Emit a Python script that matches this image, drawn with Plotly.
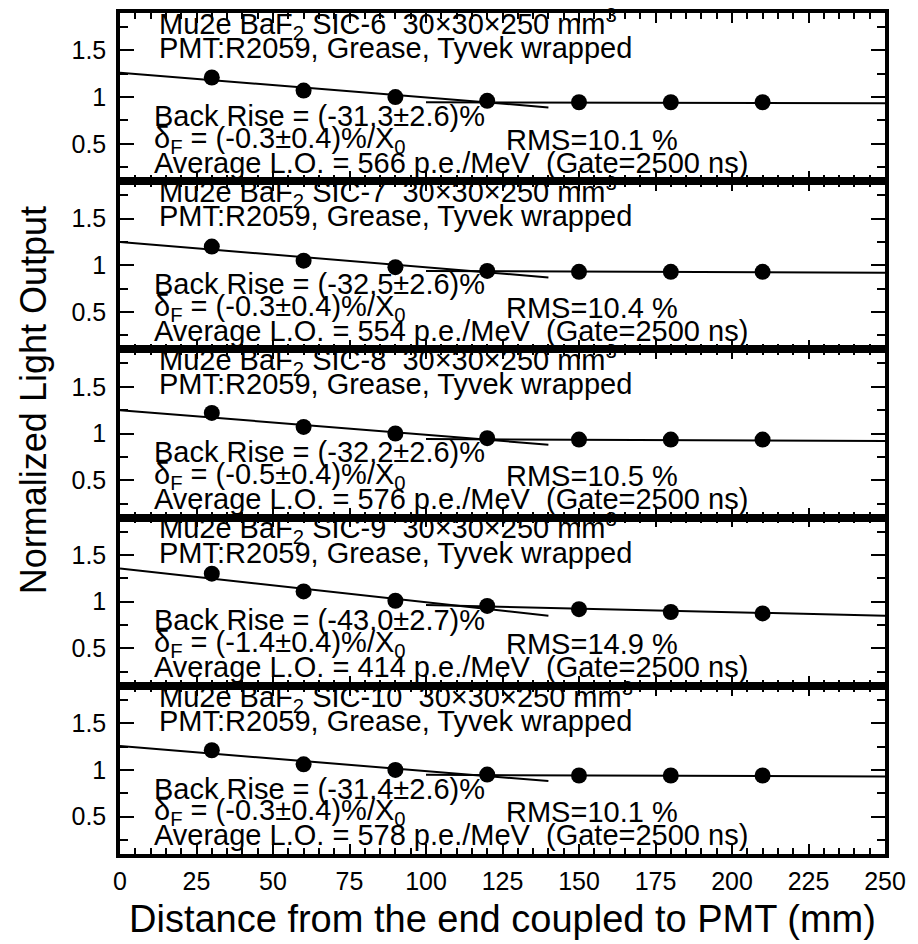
import plotly.graph_objects as go
from plotly.subplots import make_subplots

# ---- data ----
positions = [30, 60, 90, 120, 150, 180, 210]
crystals = ["SIC-6", "SIC-7", "SIC-8", "SIC-9", "SIC-10"]
lo_sic6 = [1.21, 1.07, 1.00, 0.96, 0.945, 0.945, 0.945]
lo_sic7 = [1.20, 1.05, 0.98, 0.94, 0.93, 0.93, 0.93]
lo_sic8 = [1.22, 1.07, 1.00, 0.95, 0.935, 0.935, 0.935]
lo_sic9 = [1.30, 1.11, 1.01, 0.955, 0.92, 0.89, 0.875]
lo_sic10 = [1.21, 1.06, 1.00, 0.95, 0.94, 0.94, 0.94]
light_output = [lo_sic6, lo_sic7, lo_sic8, lo_sic9, lo_sic10]

front_fit_x = [0, 140]
front_fit_y = [[1.26, 0.89], [1.25, 0.87], [1.25, 0.88], [1.355, 0.85], [1.255, 0.88]]
rear_fit_x = [100, 250]
rear_fit_y = [[0.945, 0.935], [0.94, 0.92], [0.94, 0.92], [0.965, 0.85], [0.947, 0.93]]

back_rise = ["-31.3\u00b12.6", "-32.5\u00b12.6", "-32.2\u00b12.6", "-43.0\u00b12.7", "-31.4\u00b12.6"]
delta_f = ["-0.3\u00b10.4", "-0.3\u00b10.4", "-0.5\u00b10.4", "-1.4\u00b10.4", "-0.3\u00b10.4"]
rms = ["10.1", "10.4", "10.5", "14.9", "10.1"]
avg_lo = ["566", "554", "576", "414", "578"]

x_ticks = [0, 25, 50, 75, 100, 125, 150, 175, 200, 225, 250]
y_ticks = [0.5, 1, 1.5]
y_tick_text = ["0.5", "1", "1.5"]
y_minor = [0.25, 0.75, 1.25, 1.75]

FONT = "Liberation Sans, Arial, Helvetica, sans-serif"
NB = "\u00a0"

fig = make_subplots(rows=5, cols=1, shared_xaxes=True, vertical_spacing=0)

annotations = []
for i in range(5):
    r = i + 1
    fig.add_trace(go.Scatter(x=front_fit_x, y=front_fit_y[i], mode="lines",
                             line=dict(color="black", width=2), showlegend=False), row=r, col=1)
    fig.add_trace(go.Scatter(x=rear_fit_x, y=rear_fit_y[i], mode="lines",
                             line=dict(color="black", width=2), showlegend=False), row=r, col=1)
    fig.add_trace(go.Scatter(x=positions, y=light_output[i], mode="markers",
                             marker=dict(color="black", size=16), showlegend=False), row=r, col=1)
    xr = "x" if r == 1 else f"x{r}"
    yr = "y" if r == 1 else f"y{r}"
    lines = [
        (12.0, 1.785, f"Mu2e BaF<sub>2</sub> {crystals[i]}{NB}{NB}30\u00d730\u00d7250 mm<sup>3</sup>"),
        (12.0, 1.525, "PMT:R2059, Grease, Tyvek wrapped"),
        (10.5, 0.80, f"Back Rise = ({back_rise[i]})%"),
        (10.5, 0.545, f"\u03b4<sub>F</sub> = ({delta_f[i]})%/X<sub>0</sub>"),
        (125.5, 0.545, f"RMS={rms[i]} %"),
        (10.5, 0.30, f"Average L.O. = {avg_lo[i]} p.e./MeV{NB}{NB}(Gate=2500 ns)"),
    ]
    for (ax_, ay_, txt) in lines:
        annotations.append(dict(x=ax_, y=ay_, xref=xr, yref=yr, text=txt, showarrow=False,
                                xanchor="left", yanchor="middle",
                                font=dict(family=FONT, size=29, color="black")))
    fig.update_yaxes(range=[0.1, 1.9], tickvals=y_ticks, ticktext=y_tick_text,
                     ticks="inside", ticklen=14, tickwidth=2, tickcolor="black",
                     minor=dict(tickvals=y_minor, ticks="inside", ticklen=8, tickwidth=2, tickcolor="black"),
                     showline=True, linewidth=3.5, linecolor="black", mirror="ticks",
                     showgrid=False, zeroline=False,
                     tickfont=dict(family=FONT, size=25, color="black"),
                     ticklabelstandoff=5, row=r, col=1)
    fig.update_xaxes(range=[0, 250], tickvals=x_ticks,
                     ticks="inside", ticklen=10, tickwidth=2, tickcolor="black",
                     minor=dict(dtick=5, tick0=0, ticks="inside", ticklen=6, tickwidth=2, tickcolor="black"),
                     showline=True, linewidth=3.5, linecolor="black", mirror="ticks",
                     showgrid=False, zeroline=False,
                     tickfont=dict(family=FONT, size=25, color="black"),
                     ticklabelstandoff=2, row=r, col=1)

annotations.append(dict(x=0.5, y=-0.077, xref="paper", yref="paper",
                        text="Distance from the end coupled to PMT (mm)", showarrow=False,
                        xanchor="center", yanchor="middle",
                        font=dict(family=FONT, size=38, color="black")))
annotations.append(dict(x=-0.112, y=0.54, xref="paper", yref="paper",
                        text="Normalized Light Output", showarrow=False, textangle=-90,
                        xanchor="center", yanchor="middle",
                        font=dict(family=FONT, size=36, color="black")))

fig.update_layout(width=918, height=944, margin=dict(l=120, r=33, t=9, b=90),
                  plot_bgcolor="white", paper_bgcolor="white",
                  annotations=annotations, showlegend=False)

fig.write_html("out.html")
